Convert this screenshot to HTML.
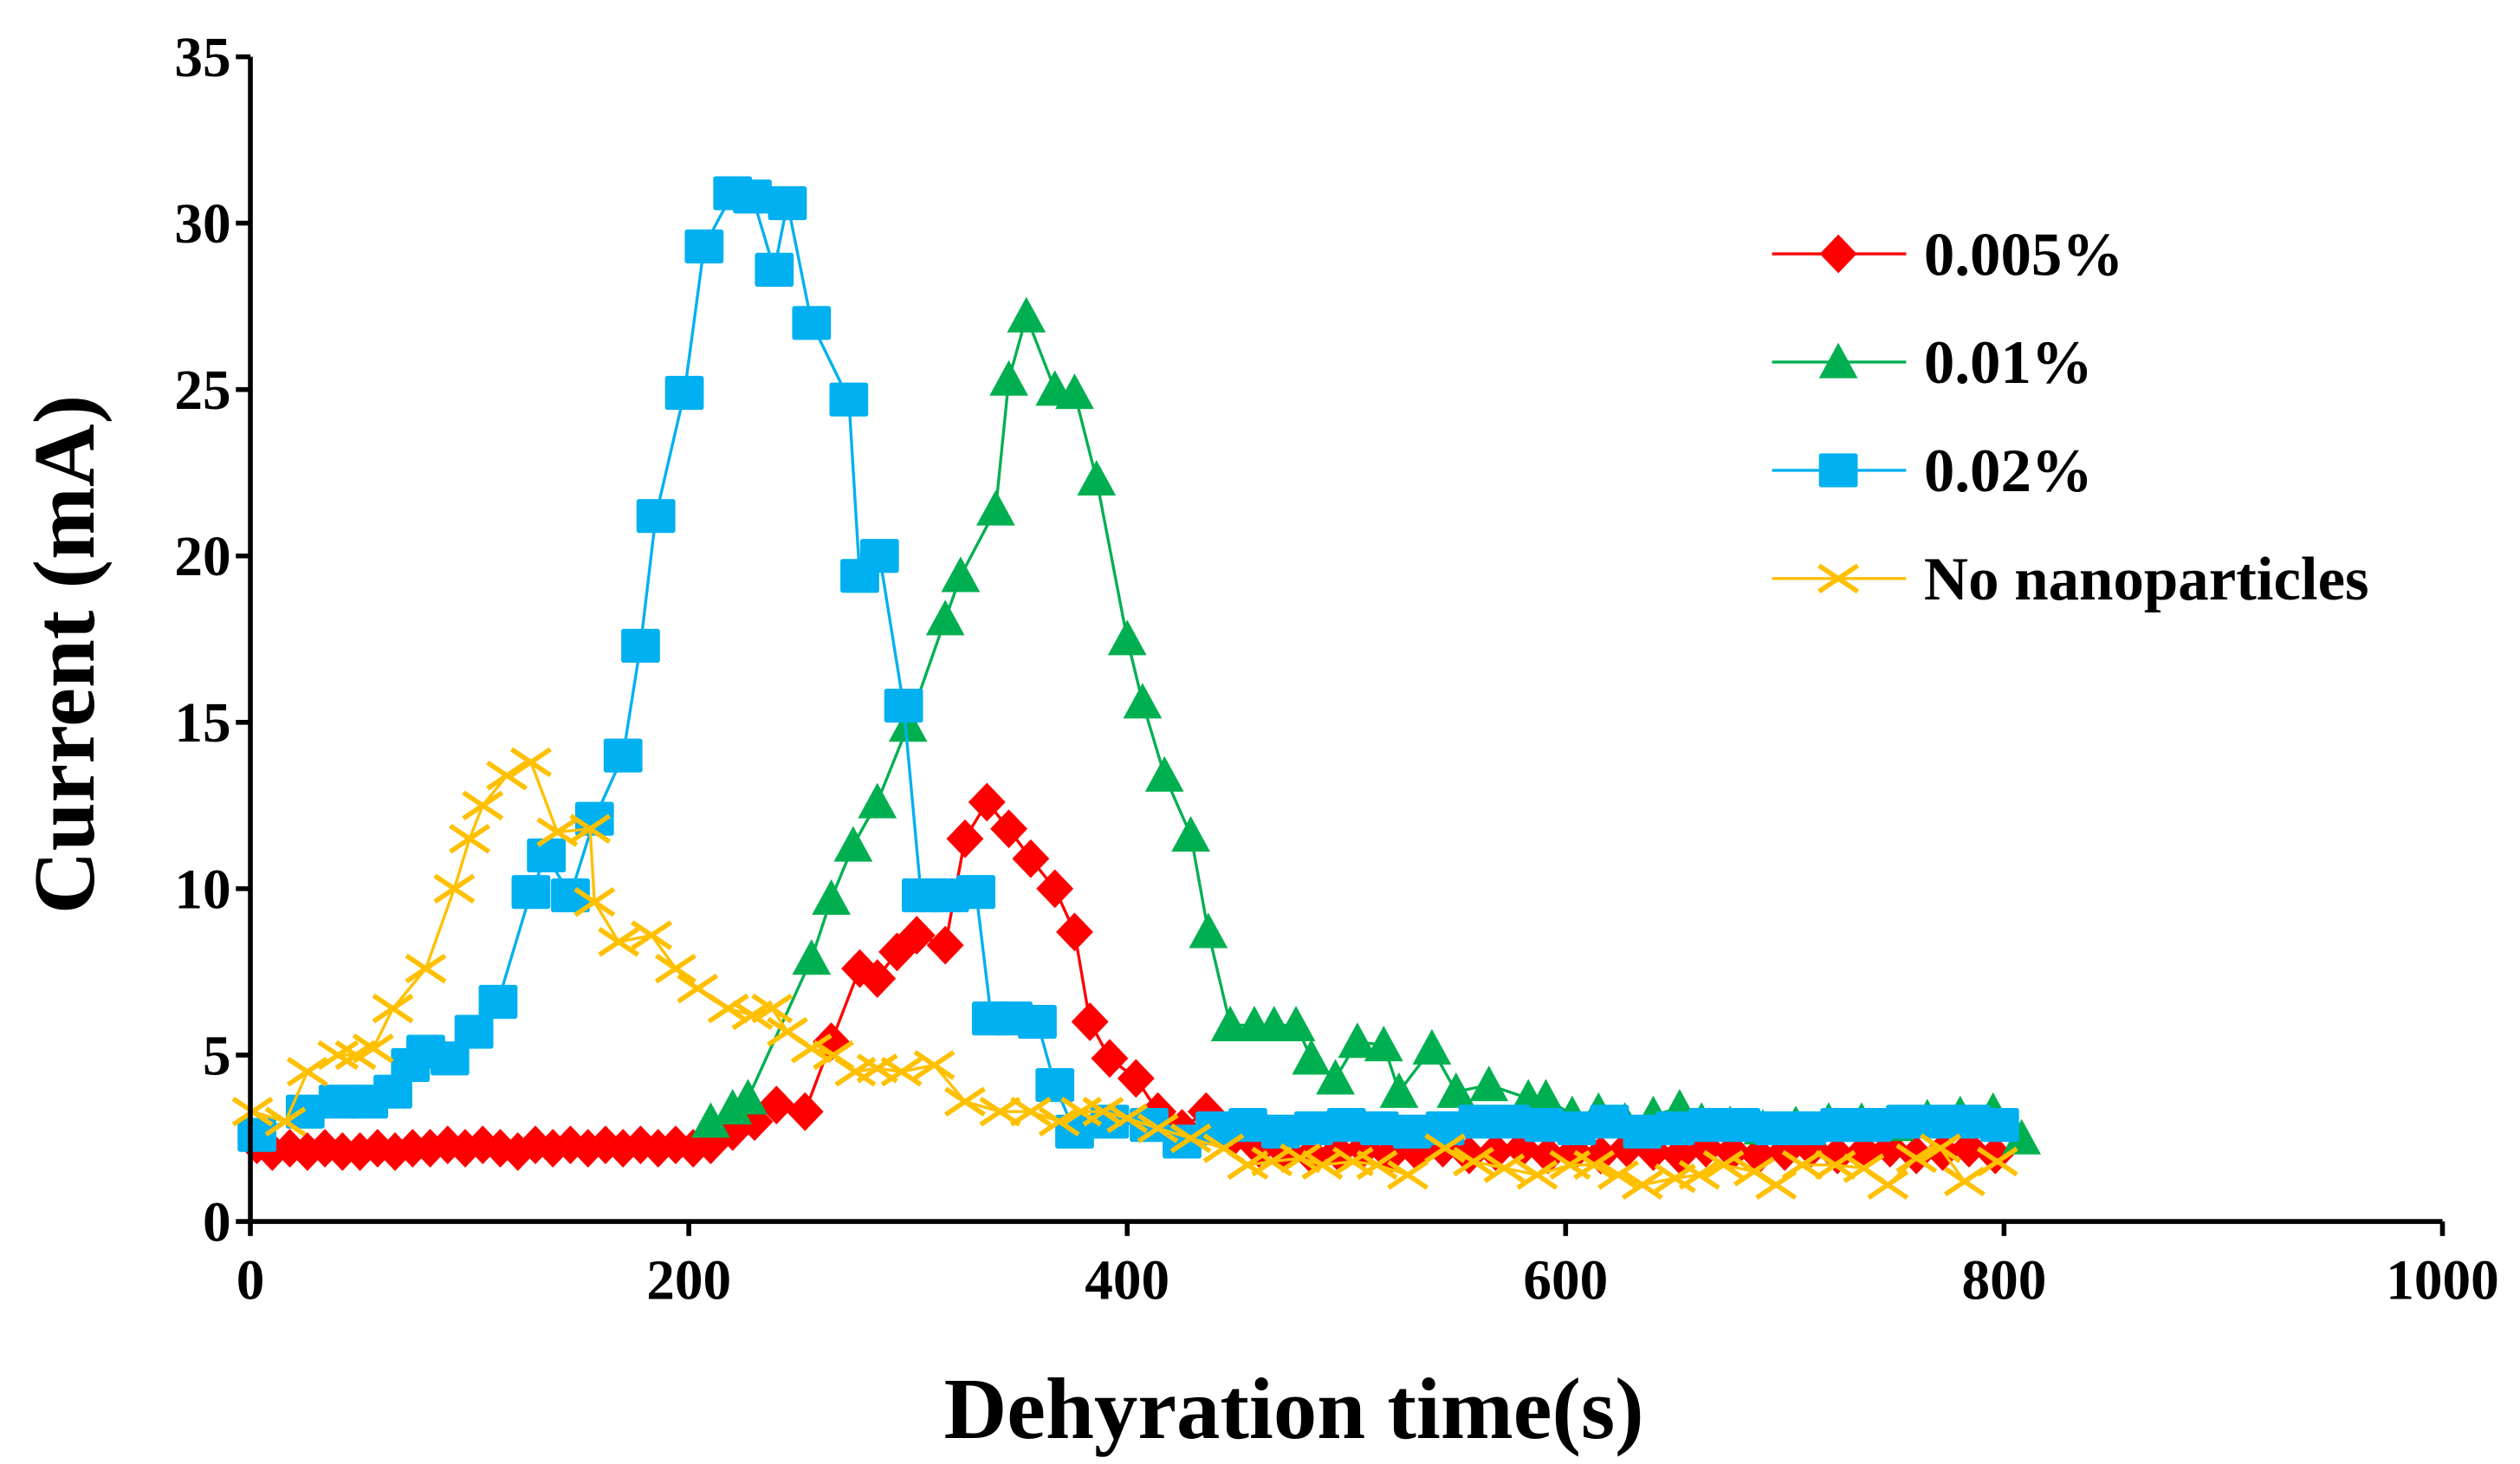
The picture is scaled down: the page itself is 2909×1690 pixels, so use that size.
<!DOCTYPE html>
<html><head><meta charset="utf-8"><style>
html,body{margin:0;padding:0;background:#fff;}
svg{display:block;}
text{font-family:"Liberation Serif",serif;font-weight:bold;fill:#000;}
</style></head><body>
<svg id="chart" width="2909" height="1690" viewBox="0 0 1560 906" xmlns="http://www.w3.org/2000/svg">
<g id="plot"></g>
<g id="axes"></g>
<g id="legend"></g>
<text x="0" y="0" font-size="54" text-anchor="middle" transform="translate(58,405) rotate(-90)">Current (mA)</text>
<text x="801" y="890" font-size="54" text-anchor="middle">Dehyration time(s)</text>
</svg>
<script>
const xTicks = [0,200,400,600,800,1000];
const yTicks = [0,5,10,15,20,25,30,35];
const seriesNames = ["0.005%","0.01%","0.02%","No nanoparticles"];
const redX = [3,10,18,26,34,42,50,58,66,74,82,90,98,106,114,122,130,138,146,154,162,170,178,186,194,202,210,220,230,240,253,265,278,286,295,304,317,326,336,346,356,367,376,383,392,404,414,425,436,448,460,472,484,496,508,520,532,544,556,568,580,592,604,616,628,640,652,664,676,688,700,712,724,736,748,760,772,784,796];
const redY = [2.3,2.1,2.2,2.1,2.2,2.1,2.1,2.2,2.1,2.2,2.2,2.3,2.2,2.3,2.2,2.1,2.3,2.2,2.3,2.2,2.3,2.2,2.3,2.2,2.3,2.2,2.3,2.7,3.0,3.5,3.3,5.4,7.6,7.3,8.1,8.6,8.3,11.5,12.6,11.8,10.9,10.0,8.7,6.0,4.9,4.3,3.3,2.8,3.3,2.5,2.2,2.1,2.0,2.1,2.2,2.0,2.1,2.2,2.0,2.1,2.2,2.0,2.1,2.0,2.2,2.1,2.0,2.2,2.1,2.0,2.1,2.2,2.0,2.1,2.2,2.0,2.1,2.2,2.0];
const greenX = [210,220,227,256,265,275,286,300,317,324,340,346,354,367,376,386,400,407,417,429,437,447,458,467,477,484,495,505,517,524,539,550,565,583,591,603,615,627,640,652,662,675,690,705,720,735,750,765,780,795,808];
const greenY = [3.0,3.4,3.7,7.9,9.7,11.3,12.6,14.9,18.1,19.4,21.4,25.3,27.2,25.0,24.9,22.3,17.5,15.6,13.4,11.6,8.7,5.9,5.9,5.9,5.9,4.9,4.3,5.4,5.3,3.9,5.2,3.9,4.1,3.7,3.7,3.2,3.3,3.0,3.2,3.4,3.0,2.9,2.8,2.9,3.0,3.0,2.9,3.1,3.2,3.3,2.5];
const blueX = [3,25,40,54,65,73,80,91,102,113,128,135,146,157,170,178,185,198,207,220,229,239,245,256,273,278,287,298,306,319,331,338,348,359,367,376,392,410,425,440,455,470,485,500,515,530,545,560,575,590,605,620,635,650,665,680,695,710,725,740,755,770,785,798];
const blueY = [2.6,3.3,3.6,3.6,3.9,4.7,5.1,4.9,5.7,6.6,9.9,11.0,9.8,12.1,14.0,17.3,21.2,24.9,29.3,30.9,30.8,28.6,30.6,27.0,24.7,19.4,20.0,15.5,9.8,9.8,9.9,6.1,6.1,6.0,4.1,2.7,3.0,2.9,2.4,2.8,2.9,2.7,2.8,2.9,2.8,2.7,2.8,3.0,3.0,2.9,2.8,3.0,2.7,2.8,2.9,2.9,2.8,2.8,2.9,2.9,3.0,3.0,3.0,2.9];
const yellowX = [1,16,26,40,48,56,65,80,93,100,106,117,128,140,155,157,168,183,194,204,218,229,238,245,256,266,276,286,297,312,326,342,356,369,379,389,400,414,429,444,455,466,479,489,503,514,528,545,558,572,587,602,613,624,635,650,661,672,686,696,708,723,736,747,760,771,782,797];
const yellowY = [3.3,3.0,4.5,5.0,5.0,5.2,6.4,7.6,10.0,11.5,12.5,13.4,13.8,11.7,11.8,9.6,8.4,8.6,7.6,7.0,6.4,6.2,6.4,5.7,5.2,5.0,4.5,4.6,4.5,4.7,3.6,3.3,3.3,3.0,3.3,3.3,3.1,2.8,2.5,2.2,1.7,1.8,1.9,1.7,1.8,1.7,1.4,2.2,1.8,1.6,1.4,1.7,1.7,1.4,1.1,1.3,1.4,1.7,1.5,1.1,1.7,1.7,1.6,1.1,1.9,2.2,1.2,1.8];

const X0=155, X1=1512, Y0=756, Y1=35;
function xs(v){return X0+(v-0)/(1000-0)*(X1-X0);}
function ys(v){return Y0-(v-0)/(35-0)*(Y0-Y1);}
const NS="http://www.w3.org/2000/svg";
function mk(tag,attrs,parent){const e=document.createElementNS(NS,tag);for(const k in attrs)e.setAttribute(k,attrs[k]);parent.appendChild(e);return e;}
const plot=document.getElementById('plot');
const axes=document.getElementById('axes');
const legend=document.getElementById('legend');

function marker(type,cx,cy,color,g){
  let e;
  if(type==='diamond'){e=mk('polygon',{points:`${cx},${cy-12} ${cx+11.5},${cy} ${cx},${cy+12} ${cx-11.5},${cy}`,fill:color},g);}
  else if(type==='triangle'){e=mk('polygon',{points:`${cx},${cy-12} ${cx+12},${cy+10} ${cx-12},${cy+10}`,fill:color},g);}
  else if(type==='square'){e=mk('rect',{x:cx-12,y:cy-10.5,width:24,height:21,rx:1.5,fill:color},g);}
  else {e=mk('path',{d:`M${cx-12},${cy-8}L${cx+12},${cy+8}M${cx-12},${cy+8}L${cx+12},${cy-8}`,stroke:color,'stroke-width':3,fill:'none'},g);}
  return e;
}
const series=[
 {name:seriesNames[0],xs:redX,ys:redY,color:'#ff0000',m:'diamond',key:'red'},
 {name:seriesNames[1],xs:greenX,ys:greenY,color:'#00b050',m:'triangle',key:'green'},
 {name:seriesNames[2],xs:blueX,ys:blueY,color:'#00b0f0',m:'square',key:'blue'},
 {name:seriesNames[3],xs:yellowX,ys:yellowY,color:'#ffc000',m:'cross',key:'yellow'}
];
series.forEach((s,si)=>{
  const g=mk('g',{},plot);
  
  
  const pts=s.xs.map((x,i)=>xs(x).toFixed(1)+','+ys(s.ys[i]).toFixed(1)).join(' ');
  const pl=mk('polyline',{points:pts,fill:'none',stroke:s.color,'stroke-width':1.8},g);
  
  
  s.xs.forEach((x,i)=>{
    const e=marker(s.m,xs(x),ys(s.ys[i]),s.color,g);
    
    
  });
  const ly=157+si*67;
  const lg=mk('g',{},legend);
  
  
  mk('line',{x1:1097,y1:ly,x2:1180,y2:ly,stroke:s.color,'stroke-width':1.8},lg);
  marker(s.m,1138,ly,s.color,lg);
  const t=mk('text',{x:1191,y:ly+13,'font-size':38},lg);
  t.textContent=s.name;
});
const ya=mk('line',{x1:X0,y1:Y1,x2:X0,y2:Y0,stroke:'#000','stroke-width':3},axes);


const xa=mk('line',{x1:X0-1.5,y1:Y0,x2:X1,y2:Y0,stroke:'#000','stroke-width':3},axes);


yTicks.forEach(v=>{
  mk('line',{x1:X0-9,y1:ys(v),x2:X0,y2:ys(v),stroke:'#000','stroke-width':3},axes);
  const t=mk('text',{x:X0-12,y:ys(v)+12,'font-size':35,'text-anchor':'end'},axes);
  
  
  t.textContent=v;
});
xTicks.forEach(v=>{
  mk('line',{x1:xs(v),y1:Y0,x2:xs(v),y2:Y0+9,stroke:'#000','stroke-width':3},axes);
  const t=mk('text',{x:xs(v),y:Y0+48,'font-size':35,'text-anchor':'middle'},axes);
  
  
  t.textContent=v;
});
</script>
</body></html>
